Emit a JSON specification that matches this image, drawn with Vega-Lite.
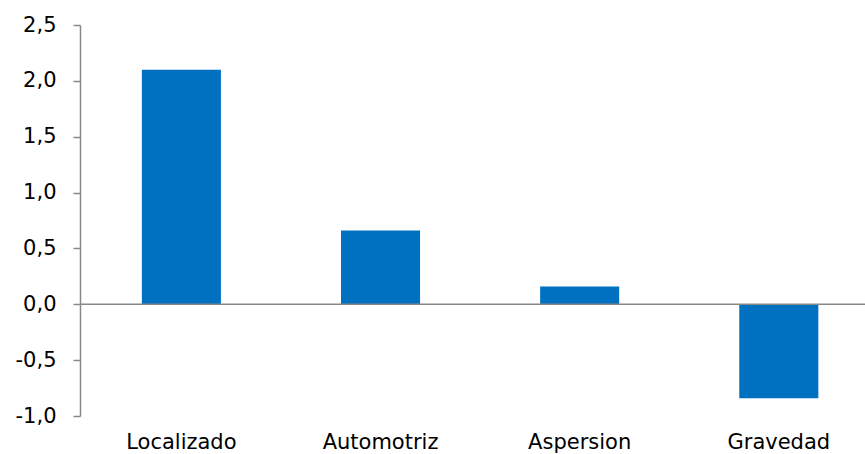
{
  "$schema": "https://vega.github.io/schema/vega-lite/v6.json",
  "autosize": "none",
  "padding": {"left": 80, "top": 25, "right": 0, "bottom": 38},
  "width": 785,
  "height": 391,
  "background": "white",
  "config": {"view": {"stroke": null}, "font": "DejaVu Sans"},
  "data": {"values": [
    {"categoria": "Localizado", "valor": 2.1},
    {"categoria": "Automotriz", "valor": 0.66},
    {"categoria": "Aspersion", "valor": 0.16},
    {"categoria": "Gravedad", "valor": -0.84}
  ]},
  "layer": [
    {
      "mark": {"type": "bar", "color": "#0070C0"},
      "encoding": {
        "x": {"field": "categoria", "type": "nominal", "sort": null,
          "scale": {"paddingInner": 0.603, "paddingOuter": 0.2725, "align": 0.57},
          "axis": {"title": null, "domain": false, "ticks": false, "labelAngle": 0, "labelFontSize": 21, "labelColor": "#000000", "labelPadding": 15, "labelFont": "DejaVu Sans"}},
        "y": {"field": "valor", "type": "quantitative",
          "scale": {"domain": [-1, 2.5], "nice": false, "zero": false},
          "axis": {"title": null, "grid": false, "values": [-1, -0.5, 0, 0.5, 1, 1.5, 2, 2.5],
            "labelExpr": "replace(replace(format(datum.value, '.1f'), '.', ','), '\u2212', '-')",
            "domainColor": "#888888", "tickColor": "#888888", "tickSize": 7, "domainWidth": 1.5, "tickWidth": 1.5,
            "labelFontSize": 21, "labelColor": "#000000", "labelPadding": 17, "labelFont": "DejaVu Sans"}}
      }
    },
    {
      "data": {"values": [{"y": 0}]},
      "mark": {"type": "rule", "color": "#888888", "strokeWidth": 1.5},
      "encoding": {"y": {"field": "y", "type": "quantitative"}}
    }
  ]
}
